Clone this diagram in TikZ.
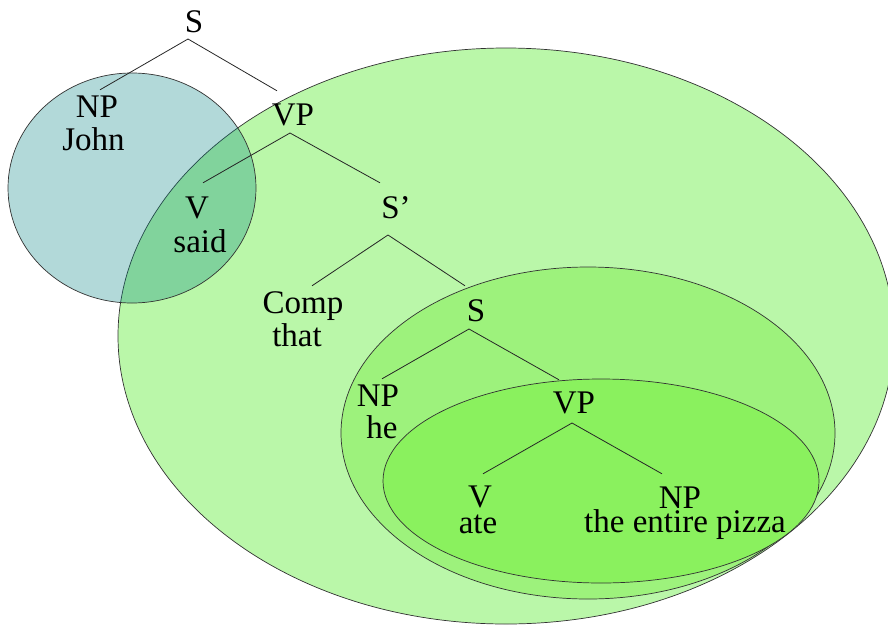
\documentclass[tikz,border=0pt]{standalone}
\usepackage{fontspec}
\setmainfont{Liberation Serif}
\usetikzlibrary{calc}
\definecolor{outerG}{HTML}{BAF7A9}
\definecolor{midG}{HTML}{9DF27C}
\definecolor{innerG}{HTML}{8AF15E}
\definecolor{tealC}{RGB}{0,128,128}
\definecolor{rimC}{RGB}{50,50,50}
\begin{document}
\begin{tikzpicture}[x=1pt,y=-1pt,
  region/.style={draw=rimC,line width=0.7pt},
  lbl/.style={anchor=base,inner sep=0pt,font=\fontsize{33}{33}\selectfont,text height=22pt,text depth=0pt},
  word/.style={anchor=base,inner sep=0pt,font=\fontsize{33}{33}\selectfont},
  branch/.style={draw=black!85,line width=0.8pt}]
\useasboundingbox (0,0) rectangle (888,627);
\clip (0,0) rectangle (888,627);
% regions
\path[region,fill=outerG] (506,336) ellipse [x radius=388,y radius=288];
\path[region,fill=tealC,fill opacity=0.3] (132,188) ellipse [x radius=124,y radius=115];
\path[region,fill=midG] (588,433) ellipse [x radius=247,y radius=166];
\path[region,fill=innerG] (601,481) ellipse [x radius=218,y radius=102];
% labels
\node[lbl] (S0) at (194,32) {S};
\node[lbl] (NP1) at (97,117) {NP};
\node[word] (w1) at (93.5,150) {John};
\node[lbl] (VP1) at (293,125) {VP};
\node[lbl] (V1) at (197,218) {V};
\node[word] (w2) at (200,252) {said};
\node[lbl] (Sp) at (396,218) {S’};
\node[lbl] (Comp) at (303,313) {Comp};
\node[word] (w3) at (297,346) {that};
\node[lbl] (S2) at (476,321) {S};
\node[lbl] (NP2) at (378,406) {NP};
\node[word] (w4) at (382,438) {he};
\node[lbl] (VP2) at (574,413) {VP};
\node[lbl] (V2) at (480,507) {V};
\node[word] (w5) at (478,533) {ate};
\node[lbl] (NP3) at (680,508) {NP};
\node[word] (w6) at (685,532) {the entire pizza};
% branches
\draw[branch] ($(NP1.north)+(3,-5)$) -- ($(S0.base)+(-6,7)$) -- ($(VP1.north)+(-16,-12)$);
\draw[branch] ($(V1.north)+(6,-13)$) -- ($(VP1.base)+(-3,8)$) -- ($(Sp.north)+(-16,-13)$);
\draw[branch] ($(Comp.north)+(9,-5)$) -- ($(Sp.base)+(-8,17)$) -- ($(S2.north)+(-11,-13)$);
\draw[branch] ($(NP2.north)+(4,-5)$) -- ($(S2.base)+(-7,8)$) -- ($(VP2.north)+(-15,-11)$);
\draw[branch] ($(V2.north)+(3,-11)$) -- ($(VP2.base)+(-2,10)$) -- ($(NP3.north)+(-18,-12)$);
\end{tikzpicture}
\end{document}
